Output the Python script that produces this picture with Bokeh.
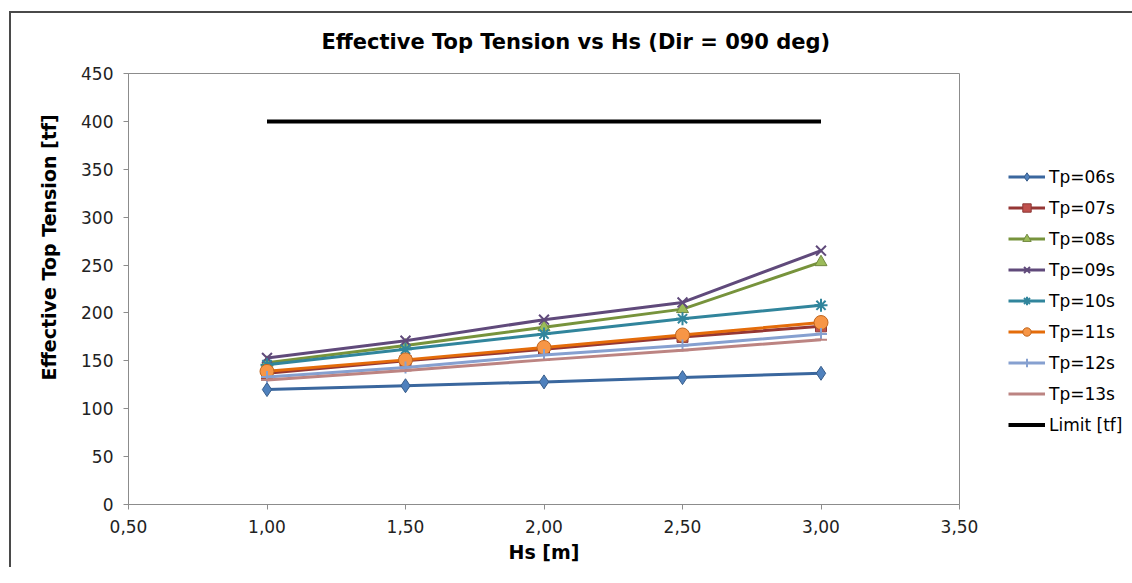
from bokeh.plotting import figure
from bokeh.models import Range1d, CustomJSTickFormatter, Legend, LegendItem, SingleIntervalTicker, Title
from bokeh.embed import file_html
from bokeh.resources import INLINE

hs = [1.0, 1.5, 2.0, 2.5, 3.0]
tp06 = [120, 124, 128, 132.5, 137]
tp07 = [137, 150, 162, 175, 186]
tp08 = [148, 166, 185, 204, 253]
tp09 = [153, 171, 193, 211, 265]
tp10 = [146, 162, 178, 194, 208]
tp11 = [139, 151, 164, 177, 190]
tp12 = [133, 143, 156, 166, 178]
tp13 = [130, 140, 151, 161, 172]
limit_x = [1.0, 3.0]
limit_y = [400, 400]

labels = ["Tp=06s", "Tp=07s", "Tp=08s", "Tp=09s", "Tp=10s", "Tp=11s", "Tp=12s", "Tp=13s"]
series = [tp06, tp07, tp08, tp09, tp10, tp11, tp12, tp13]

FONT = "DejaVu Sans"

p = figure(frame_width=831, frame_height=431, output_backend="svg", toolbar_location=None,
           x_range=Range1d(0.5, 3.5), y_range=Range1d(0, 450),
           min_border_left=128, min_border_right=157, min_border_top=73, min_border_bottom=63)
p.border_fill_alpha = 0
p.styles = {
    "background-color": "white",
    "background-image": "linear-gradient(#4a4a4a, #4a4a4a), linear-gradient(#4a4a4a, #4a4a4a)",
    "background-size": "2px 100%, 100% 2px",
    "background-position": "9px 11px, 9px 11px",
    "background-repeat": "no-repeat",
}

p.title.text = "Effective Top Tension vs Hs (Dir = 090 deg)"
p.title.align = "left"
p.title.offset = 193
p.title.text_font = FONT
p.title.text_font_size = "21px"
p.title.text_font_style = "bold"
p.title.text_color = "#000000"
p.title.standoff = 40

p.xgrid.visible = False
p.ygrid.visible = False
p.outline_line_color = "#8c8c8c"
p.outline_line_width = 1

for ax in (p.xaxis[0], p.yaxis[0]):
    ax.axis_line_color = "#8c8c8c"
    ax.major_tick_line_color = "#8c8c8c"
    ax.major_tick_in = 0
    ax.major_tick_out = 5
    ax.minor_tick_line_color = None
    ax.major_label_text_font = FONT
    ax.major_label_text_font_size = "17px"
    ax.major_label_text_color = "#222222"
    ax.axis_label_text_font = FONT
    ax.axis_label_text_font_size = "19px"
    ax.axis_label_text_font_style = "bold"
    ax.axis_label_text_color = "#000000"

p.xaxis[0].ticker = SingleIntervalTicker(interval=0.5)
p.yaxis[0].ticker = SingleIntervalTicker(interval=50)
p.xaxis[0].formatter = CustomJSTickFormatter(code="return tick.toFixed(2).replace('.', ',');")
p.xaxis[0].axis_label = "Hs [m]"
p.xaxis[0].major_label_standoff = 10
p.yaxis[0].major_label_standoff = 10
p.xaxis[0].axis_label_standoff = 5

ytitle = Title(text="Effective Top Tension [tf]", align="left", offset=124,
               text_font=FONT, text_font_size="19px", text_font_style="bold",
               text_color="#000000", standoff=38)
p.add_layout(ytitle, "left")

styles = [
    dict(line="#3a679e", marker="diamond", fill="#4F81BD", edge="#385D8A", size=14),
    dict(line="#953735", marker="square", fill="#C0504D", edge="#8C3836", size=11),
    dict(line="#77933C", marker="triangle", fill="#9BBB59", edge="#71893F", size=12),
    dict(line="#604A7B", marker="x", fill="#604A7B", edge="#604A7B", size=14),
    dict(line="#31859C", marker="asterisk", fill="#31859C", edge="#31859C", size=13),
    dict(line="#E46C0A", marker="circle", fill="#F79646", edge="#C0661F", size=14),
    dict(line="#86A0D0", marker="cross", fill="#86A0D0", edge="#86A0D0", size=12),
    dict(line="#BC8482", marker="dash", fill="#BC8482", edge="#BC8482", size=12),
]

items = []
for lab, ys, st in zip(labels, series, styles):
    lr = p.line(hs, ys, line_color=st["line"], line_width=3)
    sr = p.scatter(hs, ys, marker=st["marker"], size=st["size"], fill_color=st["fill"],
                   line_color=st["edge"],
                   line_width=2 if st["marker"] in ("x", "asterisk", "dash", "cross") else 1)
    items.append(LegendItem(label=lab, renderers=[lr, sr]))

lim = p.line(limit_x, limit_y, line_color="#000000", line_width=4)
items.append(LegendItem(label="Limit [tf]", renderers=[lim]))

legend = Legend(items=items, location=(49, 69), orientation="vertical",
                background_fill_alpha=0, border_line_color=None,
                padding=0, margin=0, spacing=10, glyph_width=37, glyph_height=21,
                label_height=21, label_standoff=4,
                label_text_font=FONT, label_text_font_size="17px", label_text_color="#000000")
p.add_layout(legend, "right")

open("out.html", "w").write(file_html(p, INLINE))
